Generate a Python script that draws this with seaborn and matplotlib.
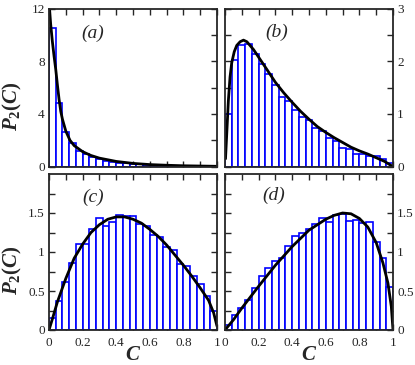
import numpy as np
import pandas as pd
import matplotlib
matplotlib.use('Agg')
import matplotlib.pyplot as plt
from matplotlib.ticker import MultipleLocator, FixedLocator, FormatStrFormatter
import seaborn as sns

# bar heights for 25 equal bins on [0, 1]
hist_a = [10.5, 4.8, 2.65, 1.77, 1.19, 0.94, 0.76, 0.56, 0.43, 0.35, 0.3, 0.25, 0.2,
          0.17, 0.14, 0.12, 0.1, 0.08, 0.07, 0.06, 0.05, 0.04, 0.03, 0.03, 0.02]
hist_b = [1.0, 2.03, 2.31, 2.33, 2.14, 1.94, 1.75, 1.54, 1.33, 1.24, 1.08, 0.94, 0.89,
          0.73, 0.67, 0.55, 0.48, 0.35, 0.33, 0.25, 0.24, 0.2, 0.2, 0.14, 0.07]
hist_c = [0.15, 0.37, 0.62, 0.86, 1.1, 1.1, 1.29, 1.43, 1.33, 1.39, 1.48, 1.46, 1.46,
          1.36, 1.33, 1.22, 1.19, 1.06, 1.03, 0.84, 0.82, 0.69, 0.59, 0.43, 0.24]
hist_d = [0.07, 0.19, 0.28, 0.39, 0.54, 0.69, 0.8, 0.89, 0.92, 1.08, 1.21, 1.24, 1.29,
          1.36, 1.44, 1.38, 1.48, 1.49, 1.4, 1.41, 1.37, 1.39, 1.13, 0.92, 0.55]

# fitted curves
curve_a_x = [0.003, 0.01, 0.02, 0.03, 0.04, 0.05, 0.06, 0.07, 0.08, 0.1, 0.125, 0.15, 0.2,
             0.25, 0.3, 0.4, 0.5, 0.6, 0.7, 0.8, 0.9, 1.0]
curve_a_y = [12.0, 10.8, 9.5, 8.4, 7.4, 6.2, 5.1, 4.2, 3.6, 2.7, 2.0, 1.6, 1.14,
             0.85, 0.65, 0.4, 0.25, 0.16, 0.11, 0.07, 0.05, 0.03]
curve_b_x = [0.003, 0.01, 0.02, 0.03, 0.04, 0.055, 0.07, 0.09, 0.11, 0.13, 0.17, 0.21,
             0.25, 0.3, 0.35, 0.4, 0.45, 0.5, 0.55, 0.6, 0.65, 0.7, 0.75, 0.8, 0.85,
             0.9, 0.95, 1.0]
curve_b_y = [0.15, 0.6, 1.25, 1.7, 1.97, 2.18, 2.3, 2.37, 2.4, 2.37, 2.22, 2.03,
             1.84, 1.6, 1.4, 1.22, 1.05, 0.9, 0.76, 0.65, 0.55, 0.46, 0.37, 0.3, 0.24,
             0.17, 0.1, 0.0]
curve_c_x = [0.0, 0.02, 0.05, 0.1, 0.15, 0.2, 0.25, 0.3, 0.35, 0.4, 0.45, 0.5, 0.55,
             0.6, 0.65, 0.7, 0.75, 0.8, 0.85, 0.9, 0.95, 0.98, 1.0]
curve_c_y = [0.0, 0.14, 0.36, 0.66, 0.92, 1.1, 1.25, 1.35, 1.42, 1.45, 1.45, 1.42, 1.37,
             1.29, 1.2, 1.09, 0.96, 0.83, 0.69, 0.54, 0.38, 0.22, 0.05]
curve_d_x = [0.0, 0.05, 0.1, 0.2, 0.3, 0.4, 0.5, 0.6, 0.65, 0.7, 0.75, 0.8, 0.85,
             0.9, 0.94, 0.97, 0.99, 1.0]
curve_d_y = [0.0, 0.13, 0.28, 0.56, 0.83, 1.07, 1.28, 1.42, 1.47, 1.5, 1.49, 1.43, 1.32,
             1.12, 0.86, 0.6, 0.3, 0.0]

tags = ['(a)', '(b)', '(c)', '(d)']

sns.set_style('ticks')
plt.rcParams['font.family'] = ['Liberation Serif', 'DejaVu Serif']
plt.rcParams['mathtext.fontset'] = 'custom'
plt.rcParams['mathtext.it'] = 'Liberation Serif:italic:bold'
plt.rcParams['mathtext.rm'] = 'Liberation Serif:bold'
plt.rcParams['mathtext.bf'] = 'Liberation Serif:bold'

nbins = 25
centers = (np.arange(nbins) + 0.5) / nbins

fig = plt.figure(figsize=(4.15, 3.65), dpi=100)
W, H = 415, 365
boxes = [(49, 8.5, 168, 158.2), (225, 8.5, 168, 158.2),
         (49, 174, 168, 156), (225, 174, 168, 156)]
axes = [fig.add_axes([x / W, 1 - (y + h) / H, w / W, h / H]) for x, y, w, h in boxes]

panels = [
    (hist_a, curve_a_x, curve_a_y, 12, [0, 4, 8, 12], [2, 6, 10], (0.26, 0.84)),
    (hist_b, curve_b_x, curve_b_y, 3, [0, 1, 2, 3], [0.5, 1.5, 2.5], (0.31, 0.85)),
    (hist_c, curve_c_x, curve_c_y, 2, [0, 0.5, 1, 1.5], [0.25, 0.75, 1.25, 1.75], (0.26, 0.85)),
    (hist_d, curve_d_x, curve_d_y, 2, [0, 0.5, 1, 1.5], [0.25, 0.75, 1.25, 1.75], (0.29, 0.86)),
]

for i, (ax, (hist, cx, cy, ymax, ymaj, ymin, tagpos)) in enumerate(zip(axes, panels)):
    df = pd.DataFrame({'C': centers, 'P': hist})
    sns.histplot(data=df, x='C', weights='P', bins=nbins, binrange=(0, 1),
                 color='white', edgecolor='blue', linewidth=1.2, alpha=1, ax=ax)
    sns.lineplot(x=cx, y=cy, color='black', lw=2, ax=ax)
    ax.set_xlim(0, 1)
    ax.set_ylim(0, ymax)
    ax.xaxis.set_major_locator(MultipleLocator(0.2))
    ax.xaxis.set_minor_locator(MultipleLocator(0.1))
    ax.xaxis.set_major_formatter(FormatStrFormatter('%g'))
    ax.yaxis.set_major_locator(FixedLocator(ymaj))
    ax.yaxis.set_minor_locator(FixedLocator(ymin))
    ax.yaxis.set_major_formatter(FormatStrFormatter('%g'))
    ax.tick_params(which='both', direction='in', top=True, right=True, length=4,
                   width=1, labelsize=9.5, pad=3)
    ax.tick_params(axis='x', pad=5)
    right = i % 2 == 1
    ax.tick_params(labelleft=not right, labelright=right, labelbottom=i >= 2)
    for s in ax.spines.values():
        s.set_linewidth(1.3)
    ax.set_xlabel('')
    ax.set_ylabel('')
    ax.text(tagpos[0], tagpos[1], tags[i], transform=ax.transAxes, ha='center',
            va='center', fontsize=14, style='italic')
    if not right:
        ax.set_ylabel(r'$P_2(C)$', fontsize=15)
        ax.yaxis.set_label_coords(-0.15, 0.38)
    if i >= 2:
        ax.set_xlabel(r'$C$', fontsize=15)
        ax.xaxis.set_label_coords(0.5, -0.1)

fig.savefig('out.png', dpi=100)
